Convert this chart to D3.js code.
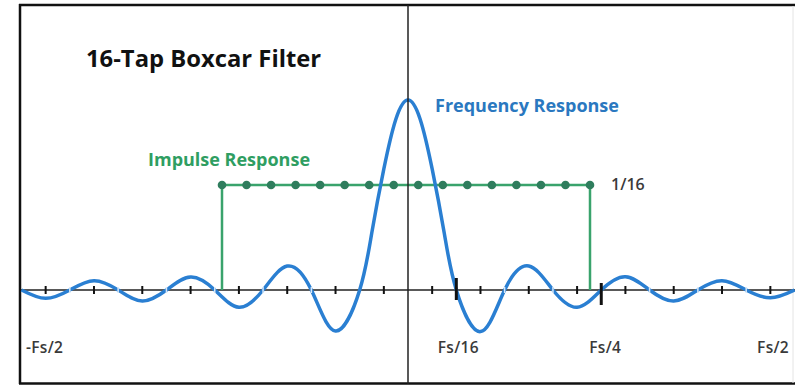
<!DOCTYPE html>
<html>
<head>
<meta charset="utf-8">
<script src="https://cdn.jsdelivr.net/npm/d3@7"></script>
<style>
  html, body { margin: 0; padding: 0; background: #fff; }
  svg { display: block; }
  text { font-family: "Open Sans", "DejaVu Sans", sans-serif; }
</style>
</head>
<body>
<svg id="chart" width="795" height="390"></svg>
<script>
// Frequency axis positions, in units of Fs/16 (so -8 = -Fs/2, +8 = Fs/2)
const freqBins = [-8, -7.5, -7, -6.5, -6, -5.5, -5, -4.5, -4, -3.5, -3, -2.5, -2, -1.5, -1,
  -0.75, -0.5, -0.25, 0, 0.25, 0.5, 0.75,
  1, 1.5, 2, 2.5, 3, 3.5, 4, 4.5, 5, 5.5, 6, 6.5, 7, 7.5, 8];
// Normalised magnitude of the frequency response at those positions
const freqResponse = [0, -0.044, 0, 0.049, 0, -0.058, 0, 0.068, 0, -0.091, 0, 0.126, 0, -0.216, 0,
  0.30, 0.637, 0.90, 1, 0.90, 0.637, 0.30,
  0, -0.219, 0, 0.126, 0, -0.091, 0, 0.070, 0, -0.058, 0, 0.049, 0, -0.041, 0];

// 16 filter taps, each 1/16
const tapIndex = d3.range(16);
const tapValues = tapIndex.map(() => 1 / 16);

// Labelled frequency marks
const freqMarks = [-8, 1, 4, 8];
const freqMarkLabels = ["-Fs/2", "Fs/16", "Fs/4", "Fs/2"];
const majorMarks = [1, 4];
// Minor ticks sit halfway between the nulls
const minorMarks = [-7.5, -6.5, -5.5, -4.5, -3.5, -2.5, -1.5, -0.5, 0.5, 1.5, 2.5, 3.5, 4.5, 5.5, 6.5, 7.5];
const nullMarks = [-7, -6, -5, -4, -3, -2, 2, 3, 5, 6, 7];

const svg = d3.select("#chart");

const x = d3.scaleLinear().domain([-8, 8]).range([21.5, 794.5]);
const y = d3.scaleLinear().domain([0, 1]).range([290, 100]);
const xTap = d3.scalePoint().domain(tapIndex).range([222, 590]);
const yTap = d3.scaleLinear().domain([0, 1 / 16]).range([290, 185]);

const BLUE = "#2a7fd2";
const GREEN = "#3aa36c";
const DOT = "#2f7d5d";

// Frame
svg.append("line").attr("x1", 20).attr("x2", 20).attr("y1", 4).attr("y2", 384)
  .attr("stroke", "#111").attr("stroke-width", 2.5);
svg.append("line").attr("x1", 19).attr("x2", 795).attr("y1", 5).attr("y2", 5)
  .attr("stroke", "#111").attr("stroke-width", 2.5);
svg.append("line").attr("x1", 19).attr("x2", 795).attr("y1", 383.5).attr("y2", 383.5)
  .attr("stroke", "#111").attr("stroke-width", 2.5);
svg.append("line").attr("x1", 793).attr("x2", 793).attr("y1", 6).attr("y2", 383)
  .attr("stroke", "#e4e4e4").attr("stroke-width", 1);

// Horizontal frequency axis
svg.append("line").attr("x1", 21).attr("x2", 795).attr("y1", y(0)).attr("y2", y(0))
  .attr("stroke", "#222").attr("stroke-width", 1.5);

// Minor ticks
svg.append("g").selectAll("line").data(minorMarks).join("line")
  .attr("x1", d => x(d)).attr("x2", d => x(d))
  .attr("y1", y(0) - 4).attr("y2", y(0) + 4)
  .attr("stroke", "#111").attr("stroke-width", 2);

// Impulse response: outline and taps
const tapG = svg.append("g");
tapG.append("path")
  .attr("d", d3.line()([
    [xTap(0), yTap(0)], [xTap(0), yTap(tapValues[0])],
    [xTap(15), yTap(tapValues[15])], [xTap(15), yTap(0)]
  ]))
  .attr("fill", "none").attr("stroke", GREEN).attr("stroke-width", 2.5);
tapG.selectAll("circle").data(tapIndex).join("circle")
  .attr("cx", d => xTap(d)).attr("cy", d => yTap(tapValues[d]))
  .attr("r", 4.3).attr("fill", DOT);

// Frequency response curve
const pts = freqBins.map((f, i) => [x(f), y(freqResponse[i])]);
svg.append("path")
  .attr("d", d3.line().curve(d3.curveNatural)(pts))
  .attr("fill", "none").attr("stroke", BLUE).attr("stroke-width", 3.5)
  .attr("stroke-linejoin", "round");

// Faint tick marks across the curve at the nulls
svg.append("g").selectAll("line").data(nullMarks).join("line")
  .attr("x1", d => x(d)).attr("x2", d => x(d))
  .attr("y1", y(0) - 3).attr("y2", y(0) + 3)
  .attr("stroke", "#d6e6f6").attr("stroke-width", 1.5);

// Major ticks at Fs/16 and Fs/4
svg.append("g").selectAll("line").data(majorMarks).join("line")
  .attr("x1", d => x(d)).attr("x2", d => x(d))
  .attr("y1", (d, i) => y(0) - (i === 0 ? 12 : 7)).attr("y2", (d, i) => y(0) + (i === 0 ? 10 : 15))
  .attr("stroke", "#111").attr("stroke-width", 3);

// Vertical axis at DC
svg.append("line").attr("x1", x(0)).attr("x2", x(0)).attr("y1", 5).attr("y2", 384)
  .attr("stroke", "#222").attr("stroke-width", 1.5);

// Frequency labels
svg.append("g").selectAll("text").data(freqMarks).join("text")
  .attr("x", (d, i) => i === 0 ? 26 : (i === 3 ? 789 : x(d) + (i === 2 ? 4 : 2)))
  .attr("y", 353)
  .attr("text-anchor", (d, i) => i === 0 ? "start" : (i === 3 ? "end" : "middle"))
  .attr("font-size", 15.5).attr("font-weight", 600).attr("fill", "#3a3a3a")
  .attr("letter-spacing", 0.3)
  .text((d, i) => freqMarkLabels[i]);

// Tap value label
svg.append("text").attr("x", 611).attr("y", 190)
  .attr("font-size", 16).attr("font-weight", 600).attr("fill", "#3a3a3a")
  .text("1/16");

// Titles
svg.append("text").attr("x", 86).attr("y", 67)
  .attr("font-size", 23.8).attr("font-weight", 700).attr("fill", "#111")
  .text("16-Tap Boxcar Filter");
svg.append("text").attr("x", 435).attr("y", 112)
  .attr("font-size", 18).attr("font-weight", 700).attr("fill", "#2a78c0")
  .text("Frequency Response");
svg.append("text").attr("x", 148).attr("y", 166)
  .attr("font-size", 18).attr("font-weight", 700).attr("fill", "#2f9e62")
  .text("Impulse Response");
</script>
</body>
</html>
